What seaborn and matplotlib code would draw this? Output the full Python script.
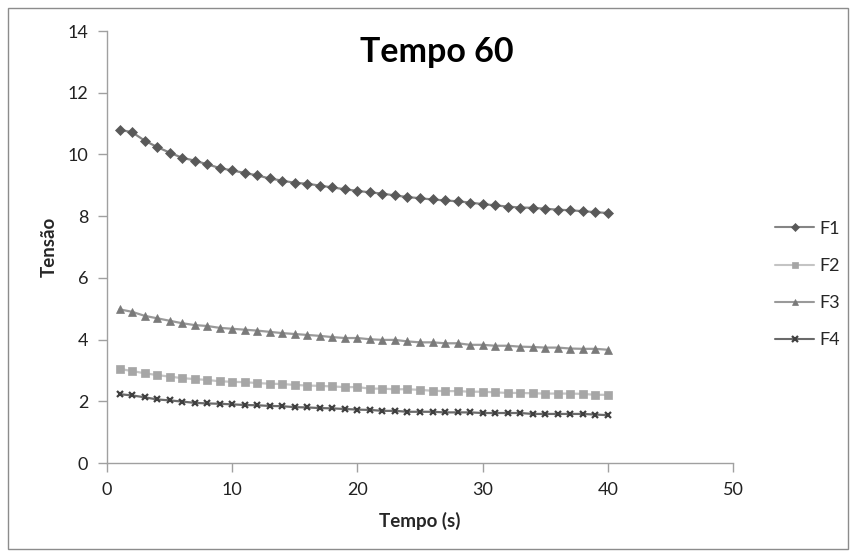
import numpy as np
import pandas as pd
import matplotlib
matplotlib.use("Agg")
import matplotlib.pyplot as plt
import seaborn as sns
from matplotlib.patches import Rectangle

tempo = list(range(1, 41))
f1 = [10.80, 10.72, 10.45, 10.24, 10.06, 9.89, 9.80, 9.68, 9.56, 9.48,
      9.40, 9.32, 9.22, 9.15, 9.08, 9.05, 8.99, 8.93, 8.87, 8.82,
      8.77, 8.73, 8.67, 8.62, 8.58, 8.54, 8.51, 8.48, 8.44, 8.39,
      8.35, 8.31, 8.28, 8.27, 8.24, 8.21, 8.19, 8.16, 8.13, 8.10]
f2 = [3.05, 2.98, 2.91, 2.85, 2.80, 2.75, 2.72, 2.69, 2.65, 2.63,
      2.62, 2.59, 2.57, 2.56, 2.53, 2.51, 2.50, 2.48, 2.46, 2.46,
      2.41, 2.41, 2.39, 2.39, 2.37, 2.34, 2.33, 2.33, 2.31, 2.31,
      2.29, 2.27, 2.27, 2.26, 2.25, 2.25, 2.25, 2.24, 2.21, 2.21]
f3 = [4.98, 4.90, 4.77, 4.69, 4.61, 4.53, 4.47, 4.44, 4.38, 4.35,
      4.32, 4.29, 4.25, 4.21, 4.18, 4.15, 4.12, 4.08, 4.05, 4.05,
      4.01, 3.99, 3.99, 3.94, 3.91, 3.91, 3.88, 3.88, 3.83, 3.83,
      3.80, 3.80, 3.77, 3.76, 3.74, 3.74, 3.71, 3.70, 3.70, 3.67]
f4 = [2.23, 2.19, 2.13, 2.06, 2.03, 1.99, 1.95, 1.93, 1.92, 1.90,
      1.88, 1.87, 1.85, 1.84, 1.81, 1.80, 1.78, 1.77, 1.75, 1.73,
      1.72, 1.69, 1.69, 1.66, 1.66, 1.66, 1.64, 1.64, 1.64, 1.62,
      1.62, 1.62, 1.62, 1.59, 1.59, 1.59, 1.59, 1.59, 1.57, 1.55]
series_names = ["F1", "F2", "F3", "F4"]
x_ticks = [0, 10, 20, 30, 40, 50]
y_ticks = [0, 2, 4, 6, 8, 10, 12, 14]

df = pd.DataFrame({"Tempo": tempo * 4,
                   "Tensao": f1 + f2 + f3 + f4,
                   "Serie": sum([[n] * len(tempo) for n in series_names], [])})

sns.set_style("white")
plt.rcParams["font.family"] = ["Lato", "DejaVu Sans"]

fig = plt.figure(figsize=(8.51, 5.56), dpi=100)
ax = fig.add_axes([107 / 851, 1 - 463 / 556, (733 - 107) / 851, (463 - 31) / 556])

styles = {
    "F1": dict(color="#858585", marker="D", markersize=5.0, mfc="#595959", mec="#595959", mew=0.5),
    "F2": dict(color="#c4c4c4", marker="s", markersize=5.5, mfc="#a6a6a6", mec="#a6a6a6", mew=0.5),
    "F3": dict(color="#9a9a9a", marker="^", markersize=6.0, mfc="#7a7a7a", mec="#7a7a7a", mew=0.5),
    "F4": dict(color="#6a6a6a", marker="x", markersize=5.0, mfc="#404040", mec="#404040", mew=1.6),
}
for name in series_names:
    st = styles[name]
    sns.lineplot(data=df[df["Serie"] == name], x="Tempo", y="Tensao", ax=ax,
                 color=st["color"], linewidth=1.6, marker=st["marker"],
                 markersize=st["markersize"], markerfacecolor=st["mfc"],
                 markeredgecolor=st["mec"], markeredgewidth=st["mew"], label=name)

ax.set_xlim(0, 50)
ax.set_ylim(0, 14)
ax.set_xticks(x_ticks)
ax.set_yticks(y_ticks)
for s in ["top", "right"]:
    ax.spines[s].set_visible(False)
for s in ["left", "bottom"]:
    ax.spines[s].set_color("#a0a0a0")
    ax.spines[s].set_linewidth(1.0)
ax.tick_params(axis="both", which="major", direction="out", length=6.5, width=1.0,
               color="#a0a0a0", labelsize=13, labelcolor="#222222", pad=7,
               left=True, bottom=True)
ax.set_xlabel("Tempo (s)", fontsize=13.5, fontweight="bold", labelpad=10)
ax.set_ylabel("Tensão", fontsize=13.5, fontweight="bold", labelpad=7)

leg = ax.legend(loc="center left", bbox_to_anchor=(766 / 851, 1 - 284.5 / 556),
                bbox_transform=fig.transFigure, frameon=False, borderpad=0,
                fontsize=13, handlelength=2.17, labelspacing=1.17, handletextpad=0.3)
for ln in leg.get_lines():
    ln.set_markersize(3.8)
    ln.set_linewidth(1.5)

fig.text(437 / 851, 1 - 62 / 556, "Tempo 60", ha="center", va="baseline",
         fontsize=24.5, fontweight="bold", color="#000000")

fig.patches.append(Rectangle((8 / 851, 7 / 556), 840 / 851, 541 / 556,
                             transform=fig.transFigure, fill=False,
                             edgecolor="#8c8c8c", linewidth=1.0))

fig.savefig("out.png", dpi=100)
